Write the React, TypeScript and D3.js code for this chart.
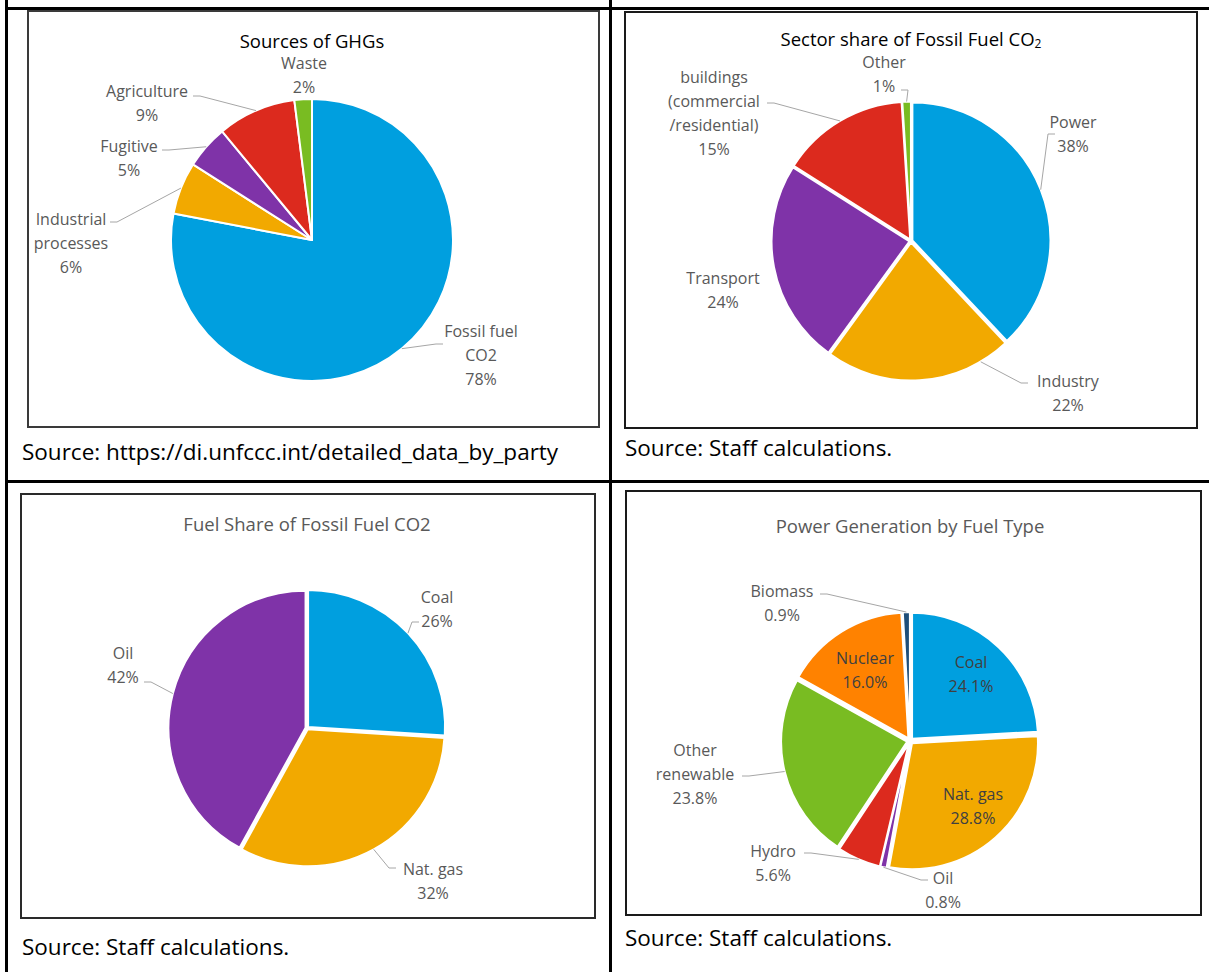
import React from "react";
import * as d3 from "d3";

// ---------- DATA ----------
const ghgCategories = ["Fossil fuel\nCO2", "Industrial\nprocesses", "Fugitive", "Agriculture", "Waste"];
const ghgValues = [78, 6, 5, 9, 2];

const sectorCategories = ["Power", "Industry", "Transport", "buildings\n(commercial\n/residential)", "Other"];
const sectorValues = [38, 22, 24, 15, 1];

const fuelCategories = ["Coal", "Nat. gas", "Oil"];
const fuelValues = [26, 32, 42];

const powerCategories = ["Coal", "Nat. gas", "Oil", "Hydro", "Other\nrenewable", "Nuclear", "Biomass"];
const powerValues = [24.1, 28.8, 0.8, 5.6, 23.8, 16.0, 0.9];

const titles = ["Sources of GHGs", "Sector share of Fossil Fuel CO", "Fuel Share of Fossil Fuel CO2", "Power Generation by Fuel Type"];
const sources = [
  "Source: https://di.unfccc.int/detailed_data_by_party",
  "Source: Staff calculations.",
  "Source: Staff calculations.",
  "Source: Staff calculations.",
];

// ---------- STYLE ----------
const BLUE = "#009FDF";
const YELLOW = "#F2A900";
const PURPLE = "#7F33A8";
const RED = "#DC2A1E";
const GREEN = "#79BC22";
const ORANGE = "#FF8200";
const NAVY = "#1E4E79";

const ghgColors = [BLUE, YELLOW, PURPLE, RED, GREEN];
const sectorColors = [BLUE, YELLOW, PURPLE, RED, GREEN];
const fuelColors = [BLUE, YELLOW, PURPLE];
const powerColors = [BLUE, YELLOW, PURPLE, RED, GREEN, ORANGE, NAVY];

const FONT = "'Segoe UI', 'Open Sans', 'Noto Sans', sans-serif";
const LABEL_SIZE = 16;
const LINE_H = 24;

type LabelLayout = { dx: number; dy: number; inside?: boolean; leader?: { ax: number; ay: number; angle?: number } };

// label layouts relative to pie center (dx, dy = center of first line)
const ghgLayout: LabelLayout[] = [
  { dx: 169, dy: 91, leader: { ax: 131, ay: 104 } },
  { dx: -241, dy: -21, leader: { ax: -202, ay: -18 } },
  { dx: -183, dy: -94, leader: { ax: -150, ay: -90 } },
  { dx: -165, dy: -149, leader: { ax: -119, ay: -144 } },
  { dx: -8, dy: -177 },
];
const sectorLayout: LabelLayout[] = [
  { dx: 162, dy: -119, leader: { ax: 144, ay: -107 } },
  { dx: 157, dy: 140, leader: { ax: 117, ay: 142, angle: 150 } },
  { dx: -188, dy: 37 },
  { dx: -197, dy: -164, leader: { ax: -144, ay: -138 } },
  { dx: -27, dy: -179, leader: { ax: -10, ay: -151 } },
];
const fuelLayout: LabelLayout[] = [
  { dx: 130, dy: -131, leader: { ax: 112, ay: -106 } },
  { dx: 126, dy: 141, leader: { ax: 89, ay: 140 } },
  { dx: -184, dy: -75, leader: { ax: -163, ay: -46 } },
];
const powerLayout: LabelLayout[] = [
  { dx: 61, dy: -79, inside: true },
  { dx: 63, dy: 53, inside: true },
  { dx: 33, dy: 137, leader: { ax: 18, ay: 139 } },
  { dx: -137, dy: 110, leader: { ax: -106, ay: 112 } },
  { dx: -215, dy: 9, leader: { ax: -168, ay: 35 } },
  { dx: -45, dy: -83, inside: true },
  { dx: -128, dy: -150, leader: { ax: -90, ay: -147 } },
];

type PieProps = {
  cx: number;
  cy: number;
  r: number;
  explode: number;
  categories: string[];
  values: number[];
  colors: string[];
  layout: LabelLayout[];
  fmt: (v: number) => string;
};

function Pie({ cx, cy, r, explode, categories, values, colors, layout, fmt }: PieProps) {
  const pie = d3.pie<number>().sort(null).value((d) => d)(values);
  const arc = d3.arc<d3.PieArcDatum<number>>().innerRadius(0).outerRadius(r);
  const polar = (angleRad: number, rad: number) => [Math.sin(angleRad) * rad, -Math.cos(angleRad) * rad];
  return (
    <g transform={`translate(${cx},${cy})`}>
      {pie.map((p, i) => {
        const mid = (p.startAngle + p.endAngle) / 2;
        const [ox, oy] = polar(mid, explode);
        return (
          <path key={i} d={arc(p) || ""} transform={`translate(${ox},${oy})`} fill={colors[i]} stroke="#fff" strokeWidth={2} strokeLinejoin="round" />
        );
      })}
      {pie.map((p, i) => {
        const L = layout[i];
        if (!L.leader) return null;
        const mid = (p.startAngle + p.endAngle) / 2;
        const ang = L.leader.angle !== undefined ? (L.leader.angle * Math.PI) / 180 : mid;
        const [px, py] = polar(ang, r + explode);
        const dir = px > L.leader.ax ? -1 : 1;
        const pts = [
          [L.leader.ax, L.leader.ay],
          [L.leader.ax - dir * 7, L.leader.ay],
          [px, py],
        ];
        return <path key={"l" + i} d={d3.line()(pts as [number, number][]) || ""} fill="none" stroke="#A6A6A6" strokeWidth={1} />;
      })}
      {pie.map((p, i) => {
        const L = layout[i];
        const lines = [...categories[i].split("\n"), fmt(values[i])];
        return (
          <text
            key={"t" + i}
            textAnchor="middle"
            fontFamily={FONT}
            fontSize={LABEL_SIZE}
            fill={L.inside ? "#404040" : "#595959"}
          >
            {lines.map((s, j) => (
              <tspan key={j} x={L.dx} y={L.dy + j * LINE_H} dominantBaseline="central">
                {s}
              </tspan>
            ))}
          </text>
        );
      })}
    </g>
  );
}

export default function App() {
  const W = 1209;
  const H = 972;
  const pct0 = (v: number) => `${v}%`;
  const pct1 = (v: number) => `${v.toFixed(1)}%`;
  return (
    <svg width={W} height={H} style={{ position: "absolute", left: 0, top: 0, background: "#fff" }}>
      <rect x={0} y={0} width={W} height={H} fill="#fff" />
      {/* table grid */}
      <line x1={6.5} y1={0} x2={6.5} y2={H} stroke="#000" strokeWidth={3} />
      <line x1={610.5} y1={0} x2={610.5} y2={H} stroke="#000" strokeWidth={3} />
      <line x1={5} y1={8.5} x2={W} y2={8.5} stroke="#000" strokeWidth={3} />
      <line x1={5} y1={481.5} x2={W} y2={481.5} stroke="#000" strokeWidth={3} />

      {/* chart boxes */}
      <rect x={28} y={11} width={571} height={416} fill="#fff" stroke="#3a3a3a" strokeWidth={2} />
      <rect x={625} y={12} width={572} height={416} fill="#fff" stroke="#1a1a1a" strokeWidth={2} />
      <rect x={21} y={494} width={574} height={424} fill="#fff" stroke="#2a2a2a" strokeWidth={2} />
      <rect x={626} y={491} width={575} height={424} fill="#fff" stroke="#1a1a1a" strokeWidth={2} />

      {/* titles */}
      <text x={312} y={40} textAnchor="middle" dominantBaseline="central" fontFamily={FONT} fontSize={18.5} fill="#000">
        {titles[0]}
      </text>
      <text x={911} y={38} textAnchor="middle" dominantBaseline="central" fontFamily={FONT} fontSize={18.5} fill="#000">
        {titles[1]}
        <tspan fontSize={12} dy={5}>2</tspan>
      </text>
      <text x={307} y={523} textAnchor="middle" dominantBaseline="central" fontFamily={FONT} fontSize={18.5} fill="#595959">
        {titles[2]}
      </text>
      <text x={910} y={525} textAnchor="middle" dominantBaseline="central" fontFamily={FONT} fontSize={18.5} fill="#595959">
        {titles[3]}
      </text>

      {/* pies */}
      <Pie cx={312} cy={240} r={141} explode={0} categories={ghgCategories} values={ghgValues} colors={ghgColors} layout={ghgLayout} fmt={pct0} />
      <Pie cx={911} cy={241} r={138} explode={1.5} categories={sectorCategories} values={sectorValues} colors={sectorColors} layout={sectorLayout} fmt={pct0} />
      <Pie cx={307} cy={728} r={137} explode={1.5} categories={fuelCategories} values={fuelValues} colors={fuelColors} layout={fuelLayout} fmt={pct0} />
      <Pie cx={910} cy={741} r={126} explode={3} categories={powerCategories} values={powerValues} colors={powerColors} layout={powerLayout} fmt={pct1} />

      {/* sources */}
      <text x={22} y={451} dominantBaseline="central" fontFamily={FONT} fontSize={22.5} fill="#000">{sources[0]}</text>
      <text x={625} y={447} dominantBaseline="central" fontFamily={FONT} fontSize={22.5} fill="#000">{sources[1]}</text>
      <text x={22} y={946} dominantBaseline="central" fontFamily={FONT} fontSize={22.5} fill="#000">{sources[2]}</text>
      <text x={625} y={937} dominantBaseline="central" fontFamily={FONT} fontSize={22.5} fill="#000">{sources[3]}</text>
    </svg>
  );
}
